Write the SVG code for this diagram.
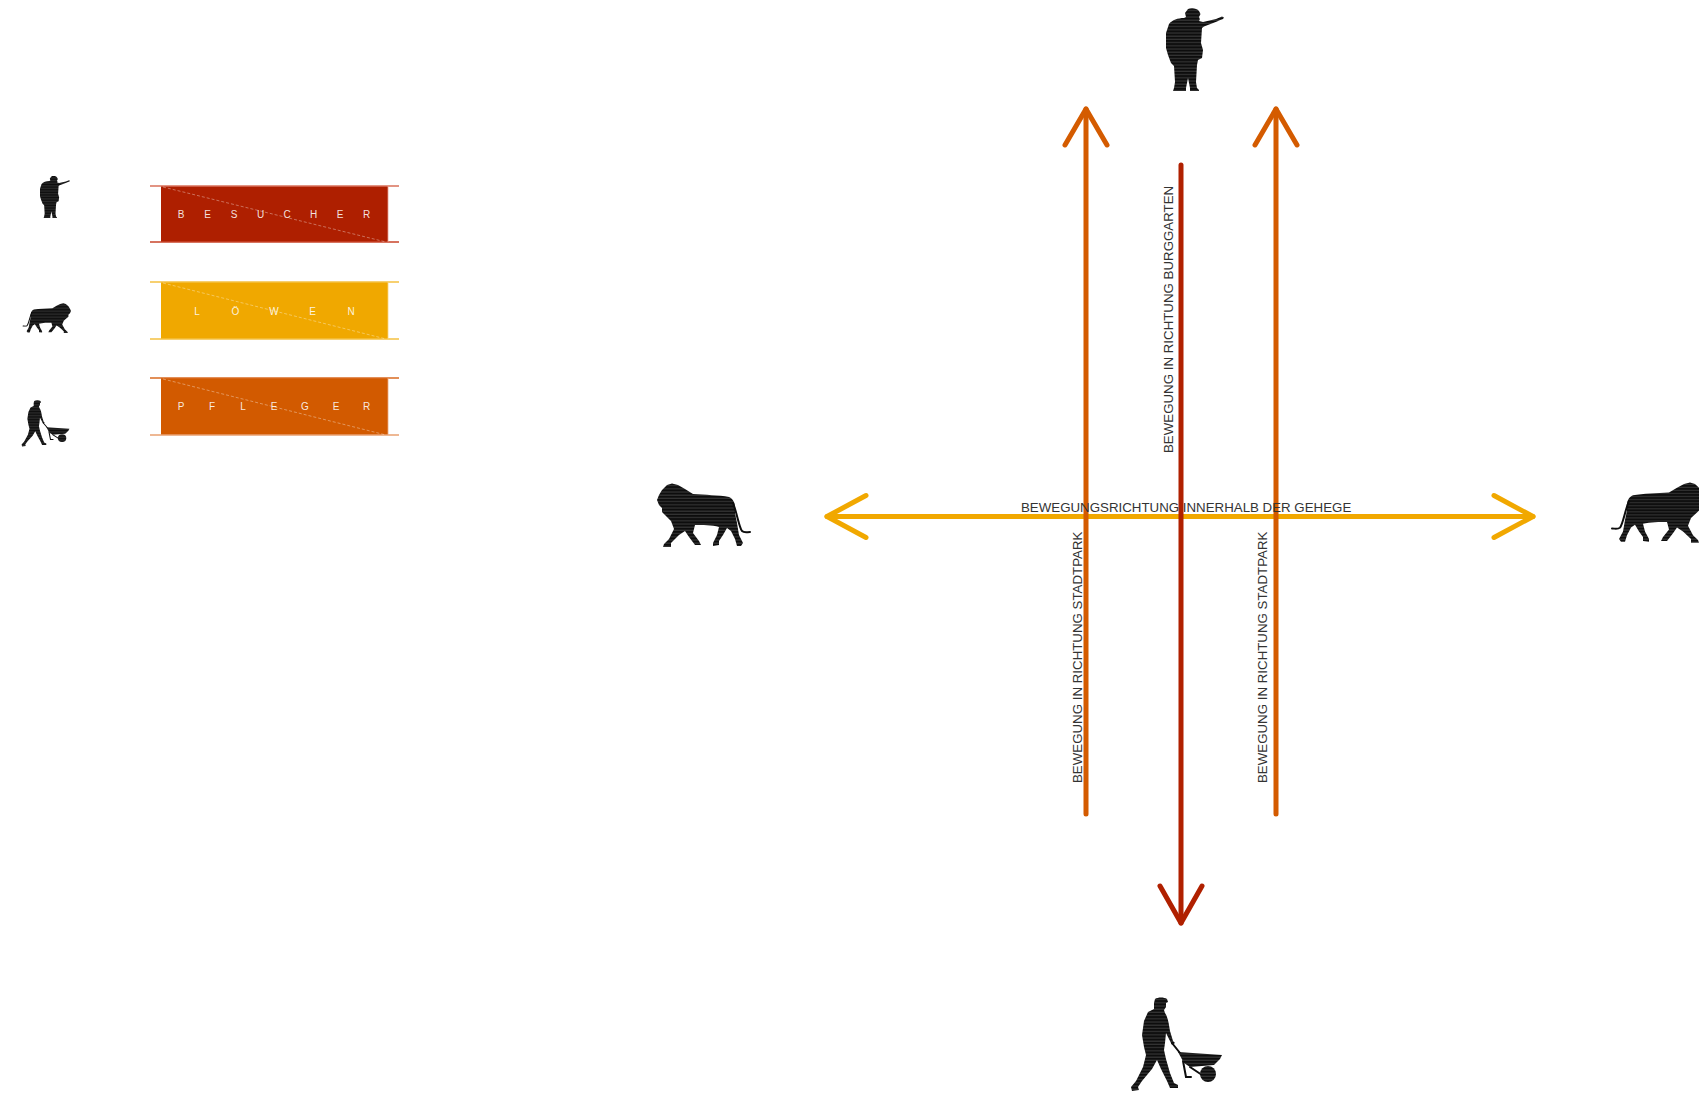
<svg xmlns="http://www.w3.org/2000/svg" width="1699" height="1093" viewBox="0 0 1699 1093">
  <style>
    .lbl { font-family: "Liberation Sans", Arial, sans-serif; font-size: 13.3px; fill: #333333; }
    .key { font-family: "Liberation Sans", Arial, sans-serif; font-size: 10px; fill: #ffffff; fill-opacity: 0.88; text-anchor: middle; }
    .flow { fill: none; stroke-width: 5; stroke-linecap: round; stroke-linejoin: round; }
    .red { stroke: #B02000; }
    .orange { stroke: #D45B00; }
    .yellow { stroke: #F1A800; }
    .diag { stroke: #ffffff; stroke-opacity: 0.45; stroke-width: 0.8; stroke-dasharray: 3 2; }
    .silhouette { fill: url(#scan); }
  </style>
  <defs>
    <!-- scan-line texture for the silhouettes -->
    <pattern id="scan" width="6" height="3.2" patternUnits="userSpaceOnUse">
      <rect width="6" height="3.2" fill="#0d0d0d"/>
      <rect y="2.2" width="6" height="0.6" fill="#5a5a5a"/>
    </pattern>

    <!-- visitor pointing to the right, 58 x 83 -->
    <g id="visitor">
      <path class="silhouette" d="M22,1 C25,-0.5 31,0 33,3 L34.5,6 L33,9 C34,11 34,12 33,13 L37,14 L50,11 L56,8.5 L58,9.5 L57,11 L53,12.5 L51,13.5 L38,18.5 L36,20 L35,35 L37,42 L36,50 L32,52 L31,57 L30,74 L31,80 L33,82 L33,83 L24,83 L24,80 L22,70 L20,80 L20,83 L7,83 L8,80 L9,74 L8,58 L5,55 L2,47 L0,40 L0,25 L3,16 C6,12 12,10 18,10 L20,9 L19,5 Z"/>
    </g>

    <!-- lion walking to the left, 93 x 65 -->
    <g id="lion">
      <path class="silhouette" d="M0,17 L2,12 L5,7 L10,2 L15,0.5 L21,2 L28,6 L36,11 C48,12 62,12 72,14 C77,16 79,22 78,30 L80,40 L82,52 L86,60 L84,63 L80,63 L78,56 L74,48 L70,45 L66,52 L62,58 L62,62 L56,63 L56,60 L60,52 L62,44 C55,42 45,42 38,42 L36,50 L42,58 L44,62 L38,62 L32,54 L28,48 L22,52 L14,60 L14,64 L6,64 L7,61 L12,56 L17,46 L14,38 L8,32 L5,29 L5,25 L2,22 Z"/>
      <path d="M76,20 C80,30 82,44 85,48 C87,50 90,49 93,49" fill="none" stroke="#0d0d0d" stroke-width="2" stroke-linecap="round"/>
    </g>

    <!-- keeper pushing a wheelbarrow, 95 x 95 -->
    <g id="keeper">
      <path class="silhouette" d="M27,2 C30,0 36,0 39,2 L40,5 L38,6 L38,10 L36,13 L37,16 C40,20 41,28 42,34 L45,44 L47,46 L44,48 L41,42 L38,36 L37,46 L36,53 L38,62 L42,76 L46,86 L50,88 L50,91 L42,91 L39,84 L33,72 L29,63 L24,72 L14,84 L10,90 L11,93 L4,94 L3,90 L8,84 L15,70 L18,58 L16,50 L14,38 L16,24 L20,15 L26,12 L26,6 Z"/>
      <path d="M44,46 L52,56 M55,64 L58,80 L63,80 M62,70 L74,78" fill="none" stroke="#0d0d0d" stroke-width="2" stroke-linecap="round"/>
      <path class="silhouette" d="M50,55 L94,58 L92,62 L86,68 L62,70 L56,66 Z"/>
      <circle class="silhouette" cx="80" cy="77" r="8"/>
    </g>
  </defs>

  <!-- legend -->
  <g id="legend-besucher">
    <use href="#visitor" transform="translate(40,176) scale(0.517,0.506)"/>
    <rect x="161" y="186" width="227" height="56" fill="#AE1F00"/>
    <line x1="150" y1="186" x2="399" y2="186" stroke="#D9705A" stroke-width="1.5"/>
    <line x1="150" y1="242" x2="399" y2="242" stroke="#C8452A" stroke-width="1.5"/>
    <line x1="388" y1="186" x2="388" y2="242" stroke="#E8A090" stroke-width="0.8"/>
    <line class="diag" x1="163" y1="187" x2="386" y2="242"/>
    <text class="key" y="217.5"><tspan x="181 207.5 234 260.5 287 313.5 340 366.5">BESUCHER</tspan></text>
  </g>

  <g id="legend-loewen">
    <use href="#lion" transform="translate(71,303) scale(-0.516,0.47)"/>
    <rect x="161" y="282" width="227" height="57" fill="#F0A800"/>
    <line x1="150" y1="282" x2="399" y2="282" stroke="#F5C040" stroke-width="1.5"/>
    <line x1="150" y1="339" x2="399" y2="339" stroke="#F5C040" stroke-width="1.5"/>
    <line x1="388" y1="282" x2="388" y2="339" stroke="#F8D480" stroke-width="0.8"/>
    <line class="diag" x1="163" y1="283" x2="386" y2="339"/>
    <text class="key" y="315"><tspan x="197 235.5 274 312.5 351">LÖWEN</tspan></text>
  </g>

  <g id="legend-pfleger">
    <use href="#keeper" transform="translate(20,400) scale(0.526,0.495)"/>
    <rect x="161" y="378" width="227" height="57" fill="#D25A00"/>
    <line x1="150" y1="378" x2="399" y2="378" stroke="#D86A20" stroke-width="1.5"/>
    <line x1="150" y1="435" x2="399" y2="435" stroke="#E9A070" stroke-width="1.5"/>
    <line x1="388" y1="378" x2="388" y2="435" stroke="#EBA880" stroke-width="0.8"/>
    <line class="diag" x1="163" y1="379" x2="386" y2="435"/>
    <text class="key" y="410"><tspan x="181 212 243 274 305 336 366.5">PFLEGER</tspan></text>
  </g>

  <!-- figures at the ends of the axes -->
  <g id="visitor-top"><use href="#visitor" transform="translate(1166,8)"/></g>
  <g id="lion-left"><use href="#lion" transform="translate(657,483)"/></g>
  <g id="lion-right"><use href="#lion" transform="translate(1705,482) scale(-1,0.95)"/></g>
  <g id="keeper-bottom"><use href="#keeper" transform="translate(1128,997)"/></g>

  <!-- movement arrows -->
  <g id="connectors">
    <g id="lions-axis">
      <path class="flow yellow" d="M827,516.5 L1533,516.5"/>
      <path class="flow yellow" d="M866,495.5 L827,516.5 L866,537.5"/>
      <path class="flow yellow" d="M1494,495.5 L1533,516.5 L1494,537.5"/>
    </g>
    <g id="keeper-left">
      <path class="flow orange" d="M1086,814 L1086,109"/>
      <path class="flow orange" d="M1065,145 L1086,109 L1107,145"/>
    </g>
    <g id="keeper-right">
      <path class="flow orange" d="M1276,814 L1276,109"/>
      <path class="flow orange" d="M1255,145 L1276,109 L1297,145"/>
    </g>
    <g id="visitors-axis">
      <path class="flow red" d="M1181,165 L1181,923"/>
      <path class="flow red" d="M1160,886 L1181,923 L1202,886"/>
    </g>
  </g>

  <!-- axis labels -->
  <g id="labels">
    <text class="lbl" x="1021" y="512">BEWEGUNGSRICHTUNG INNERHALB DER GEHEGE</text>
    <text class="lbl" transform="translate(1173,453) rotate(-90)">BEWEGUNG IN RICHTUNG BURGGARTEN</text>
    <text class="lbl" transform="translate(1082,783) rotate(-90)">BEWEGUNG IN RICHTUNG STADTPARK</text>
    <text class="lbl" transform="translate(1267,783) rotate(-90)">BEWEGUNG IN RICHTUNG STADTPARK</text>
  </g>
</svg>
